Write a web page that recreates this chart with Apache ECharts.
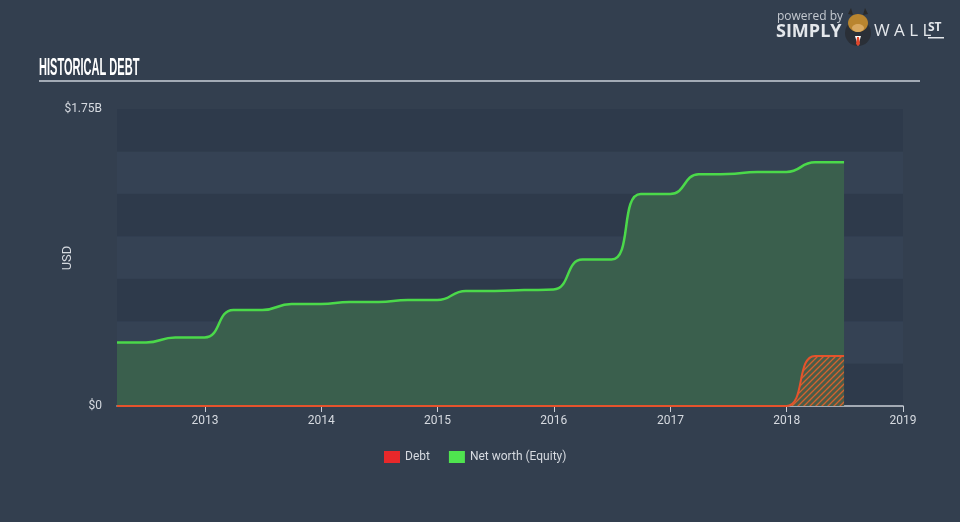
<!DOCTYPE html>
<html>
<head>
<meta charset="utf-8">
<script src="https://cdn.jsdelivr.net/npm/echarts@6/dist/echarts.min.js"></script>
<style>
html,body{margin:0;padding:0;background:#333f4f;}
#chart{width:960px;height:522px;}
</style>
</head>
<body>
<div id="chart"></div>
<script>
var dates = ['2012-03-31','2012-06-30','2012-09-30','2012-12-31','2013-03-31','2013-06-30','2013-09-30','2013-12-31','2014-03-31','2014-06-30','2014-09-30','2014-12-31','2015-03-31','2015-06-30','2015-09-30','2015-12-31','2016-03-31','2016-06-30','2016-09-30','2016-12-31','2017-03-31','2017-06-30','2017-09-30','2017-12-31','2018-03-31','2018-06-30'];
var netWorth = [0.374,0.374,0.404,0.404,0.566,0.566,0.601,0.601,0.613,0.613,0.625,0.625,0.678,0.678,0.683,0.686,0.863,0.863,1.249,1.249,1.365,1.367,1.379,1.379,1.436,1.436];
var debt = [0,0,0,0,0,0,0,0,0,0,0,0,0,0,0,0,0,0,0,0,0,0,0,0,0.295,0.295];
var yTickLabels = {0: '$0', 1.75: '$1.75B'};
var legendNames = ['Debt','Net worth (Equity)'];
var yAxisTitle = 'USD';

function pairs(vals){ return dates.map(function(d,i){ return [d, vals[i]*1e9]; }); }

// hatch pattern for debt area
var pc = document.createElement('canvas');
pc.width = 6; pc.height = 6;
var g = pc.getContext('2d');
g.fillStyle = 'rgba(90,90,70,0.55)';
g.fillRect(0,0,6,6);
g.strokeStyle = '#d4622e';
g.lineWidth = 1.3;
g.beginPath();
g.moveTo(-1,5); g.lineTo(5,-1);
g.moveTo(2,8); g.lineTo(8,2);
g.moveTo(-1,11); g.lineTo(11,-1);
g.stroke();

var chart = echarts.init(document.getElementById('chart'), null, {renderer:'canvas'});
var option = {
  animation: false,
  backgroundColor: '#333f4f',
  grid: {left:117, right:57, top:109, bottom:116, containLabel:false},
  legend: {
    data: legendNames,
    top: 446,
    left: 379,
    itemWidth: 16, itemHeight: 12, itemGap: 19,
    icon: 'rect',
    textStyle: {color:'#d6dae0', fontSize:12, fontFamily:'Roboto, sans-serif'}
  },
  xAxis: {
    type: 'time',
    min: '2012-03-31',
    max: '2019-01-01',
    minInterval: 365*24*3600*1000,
    maxInterval: 366*24*3600*1000,
    axisLine: {show:true, lineStyle:{color:'#c9ced6', width:1.5}},
    axisTick: {show:true, length:6, lineStyle:{color:'#c9ced6'}},
    axisLabel: {color:'#d6dae0', fontSize:12, fontFamily:'Roboto, sans-serif', margin:9,
      formatter: function(v){ var d=new Date(v); return (d.getMonth()===0 && d.getDate()===1) ? String(d.getFullYear()) : ''; },
      showMinLabel:false, showMaxLabel:true, alignMaxLabel:'center'},
    splitLine: {show:false}
  },
  yAxis: {
    type: 'value',
    min: 0, max: 1.75e9, interval: 0.25e9,
    axisLine: {show:false},
    axisTick: {show:false},
    axisLabel: {color:'#d6dae0', fontSize:12, fontFamily:'Roboto, sans-serif', margin:15,
      formatter: function(v){ var k = Math.round(v/1e7)/100; return yTickLabels[k] || ''; }},
    splitLine: {show:false},
    splitArea: {show:true, areaStyle:{color:['#2e3a4b','#354254']}}
  },
  series: [
    {
      name: legendNames[1], type:'line', data: pairs(netWorth),
      smooth: 0.5, symbol:'none',
      itemStyle: {color:'#4fe44f'},
      lineStyle: {color:'#4bd94a', width:2.5},
      areaStyle: {color:'#3a5f4d', opacity:1},
      z: 2
    },
    {
      name: legendNames[0], type:'line', data: pairs(debt),
      smooth: 0.5, symbol:'none',
      itemStyle: {color:'#e8282a'},
      lineStyle: {color:'#e5532c', width:2},
      areaStyle: {color:{image:pc, repeat:'repeat'}, opacity:1},
      z: 3
    }
  ],
  graphic: [
    {type:'text', x:68, y:258, rotation:Math.PI/2, style:{text:yAxisTitle, fill:'#d6dae0', font:'13px Roboto, sans-serif', align:'center', verticalAlign:'middle'}},
    {type:'text', x:39, y:56, scaleX:0.46, style:{text:'HISTORICAL DEBT', fill:'#ffffff', font:'bold 24px "Liberation Sans", "DejaVu Sans", sans-serif'}},
    {type:'rect', shape:{x:39, y:80, width:881, height:2}, style:{fill:'#a3abb6'}},
    {type:'text', left:777, top:11, style:{text:'powered by', fill:'#c4c9d0', font:'12px "Open Sans", sans-serif'}},
    {type:'text', left:776, top:23, style:{text:'SIMPLY', fill:'#e4e7eb', font:'bold 18px "Open Sans", sans-serif'}},
    {type:'circle', shape:{cx:858, cy:33, r:13}, style:{fill:'#2a2f37'}},
    {type:'polygon', shape:{points:[[855,36],[861,36],[858,46]]}, style:{fill:'#ffffff'}},
    {type:'polygon', shape:{points:[[857,37],[859,37],[860,44],[858,46],[856,44]]}, style:{fill:'#e2452a'}},
    {type:'polygon', shape:{points:[[848,14],[851,8],[853,15]]}, style:{fill:'#2a2a2a'}},
    {type:'polygon', shape:{points:[[868,14],[865,8],[863,15]]}, style:{fill:'#2a2a2a'}},
    {type:'ellipse', shape:{cx:858, cy:23, rx:10, ry:9}, style:{fill:'#b9852f'}},
    {type:'ellipse', shape:{cx:858, cy:28, rx:6, ry:4}, style:{fill:'#d8a860'}},
    {type:'text', left:874, top:23, style:{text:'W A L L', fill:'#e4e7eb', font:'17px "Open Sans", sans-serif'}},
    {type:'text', left:928, top:22, style:{text:'ST', fill:'#e4e7eb', font:'bold 12px "Open Sans", sans-serif'}},
    {type:'rect', shape:{x:928, y:37, width:16, height:1.5}, style:{fill:'#e4e7eb'}}
  ]
};
chart.setOption(option);
</script>
</body>
</html>
